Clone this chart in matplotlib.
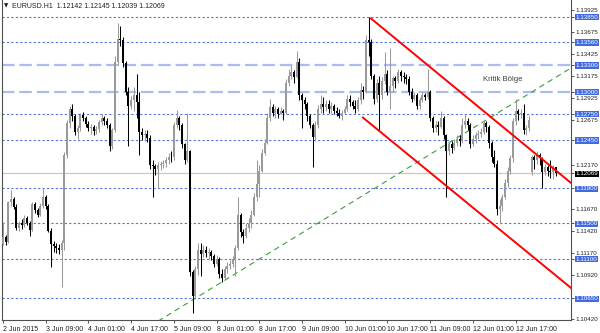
import matplotlib
matplotlib.use('Agg')
import matplotlib.pyplot as plt
from matplotlib.patches import Rectangle

# ---------------- data ----------------
opens = [
 1.1127, 1.1135, 1.1129, 1.1174, 1.1178, 1.1169, 1.1145, 1.1150, 1.1148, 1.1156,
 1.1151, 1.1143, 1.1172, 1.1165, 1.1160, 1.1170, 1.1180, 1.1170, 1.1142, 1.1127,
 1.1124, 1.1122, 1.1120, 1.1128, 1.1228, 1.1264, 1.1280, 1.1272, 1.1254, 1.1258,
 1.1273, 1.1270, 1.1263, 1.1258, 1.1260, 1.1255, 1.1257, 1.1265, 1.1270, 1.1267,
 1.1262, 1.1238, 1.1256, 1.1334, 1.1360, 1.1358, 1.1332, 1.1300, 1.1284, 1.1290,
 1.1296, 1.1288, 1.1254, 1.1250, 1.1252, 1.1247, 1.1217, 1.1215, 1.1212, 1.1216,
 1.1218, 1.1219, 1.1222, 1.1226, 1.1225, 1.1262, 1.1270, 1.1262, 1.1240, 1.1222,
 1.1232, 1.1095, 1.1068, 1.1098, 1.1120, 1.1115, 1.1120, 1.1116, 1.1118, 1.1113,
 1.1104, 1.1110, 1.1093, 1.1088, 1.1098, 1.1102, 1.1104, 1.1110, 1.1122, 1.1160,
 1.1140, 1.1136, 1.1145, 1.1150, 1.1160, 1.1180, 1.1195, 1.1210, 1.1230, 1.1242,
 1.1270, 1.1282, 1.1276, 1.1280, 1.1275, 1.1278, 1.1276, 1.1310, 1.1318, 1.1322,
 1.1316, 1.1334, 1.1296, 1.1290, 1.1286, 1.1272, 1.1262, 1.1248, 1.1262, 1.1280,
 1.1286, 1.1282, 1.1286, 1.1280, 1.1284, 1.1278, 1.1276, 1.1272, 1.1276, 1.1280,
 1.1292, 1.1288, 1.1284, 1.1280, 1.1290, 1.1302, 1.1300, 1.1358, 1.1356, 1.1318,
 1.1292, 1.1310, 1.1296, 1.1312, 1.1320, 1.1300, 1.1306, 1.1315, 1.1312, 1.1322,
 1.1318, 1.1316, 1.1314, 1.1300, 1.1292, 1.1296, 1.1284, 1.1290, 1.1296, 1.1294,
 1.1300, 1.1270, 1.1258, 1.1262, 1.1260, 1.1270, 1.1250, 1.1232, 1.1240, 1.1236,
 1.1242, 1.1246, 1.1244, 1.1262, 1.1266, 1.1262, 1.1240, 1.1246, 1.1250, 1.1252,
 1.1254, 1.1264, 1.1260, 1.1242, 1.1226, 1.1218, 1.1166, 1.1170, 1.1180, 1.1196,
 1.1210, 1.1224, 1.1266, 1.1278, 1.1274, 1.1276, 1.1256, 1.1258, 1.1208, 1.1225,
 1.1222, 1.1228, 1.1224, 1.1209, 1.1214, 1.1210, 1.1208, 1.12142]

closes = [
 1.1135, 1.1129, 1.1174, 1.1178, 1.1169, 1.1145, 1.1150, 1.1148, 1.1156, 1.1151,
 1.1143, 1.1172, 1.1165, 1.1160, 1.1170, 1.1180, 1.1170, 1.1142, 1.1127, 1.1124,
 1.1122, 1.1120, 1.1128, 1.1228, 1.1264, 1.1280, 1.1272, 1.1254, 1.1258, 1.1273,
 1.1270, 1.1263, 1.1258, 1.1260, 1.1255, 1.1257, 1.1265, 1.1270, 1.1267, 1.1262,
 1.1238, 1.1256, 1.1334, 1.1360, 1.1358, 1.1332, 1.1300, 1.1284, 1.1290, 1.1296,
 1.1288, 1.1254, 1.1250, 1.1252, 1.1247, 1.1217, 1.1215, 1.1212, 1.1216, 1.1218,
 1.1219, 1.1222, 1.1226, 1.1225, 1.1262, 1.1270, 1.1262, 1.1240, 1.1222, 1.1232,
 1.1095, 1.1068, 1.1098, 1.1120, 1.1115, 1.1120, 1.1116, 1.1118, 1.1113, 1.1104,
 1.1110, 1.1093, 1.1088, 1.1098, 1.1102, 1.1104, 1.1110, 1.1122, 1.1160, 1.1140,
 1.1136, 1.1145, 1.1150, 1.1160, 1.1180, 1.1195, 1.1210, 1.1230, 1.1242, 1.1270,
 1.1282, 1.1276, 1.1280, 1.1275, 1.1278, 1.1276, 1.1310, 1.1318, 1.1322, 1.1316,
 1.1334, 1.1296, 1.1290, 1.1286, 1.1272, 1.1262, 1.1248, 1.1262, 1.1280, 1.1286,
 1.1282, 1.1286, 1.1280, 1.1284, 1.1278, 1.1276, 1.1272, 1.1276, 1.1280, 1.1292,
 1.1288, 1.1284, 1.1280, 1.1290, 1.1302, 1.1300, 1.1358, 1.1356, 1.1318, 1.1292,
 1.1310, 1.1296, 1.1312, 1.1320, 1.1300, 1.1306, 1.1315, 1.1312, 1.1322, 1.1318,
 1.1316, 1.1314, 1.1300, 1.1292, 1.1296, 1.1284, 1.1290, 1.1296, 1.1294, 1.1300,
 1.1270, 1.1258, 1.1262, 1.1260, 1.1270, 1.1250, 1.1232, 1.1240, 1.1236, 1.1242,
 1.1246, 1.1244, 1.1262, 1.1266, 1.1262, 1.1240, 1.1246, 1.1250, 1.1252, 1.1254,
 1.1264, 1.1260, 1.1242, 1.1226, 1.1218, 1.1166, 1.1170, 1.1180, 1.1196, 1.1210,
 1.1224, 1.1266, 1.1278, 1.1274, 1.1276, 1.1256, 1.1258, 1.1268, 1.1225, 1.1222,
 1.1228, 1.1224, 1.1209, 1.1214, 1.1210, 1.1208, 1.1214, 1.12069]

highs = [
 1.1152, 1.1137, 1.1176, 1.1188, 1.1180, 1.1172, 1.1153, 1.1155, 1.1160, 1.1158,
 1.1153, 1.1174, 1.1174, 1.1168, 1.1173, 1.1190, 1.1182, 1.1172, 1.1145, 1.1130,
 1.1128, 1.1127, 1.1131, 1.1231, 1.1268, 1.1283, 1.1286, 1.1275, 1.1262, 1.1276,
 1.1277, 1.1272, 1.1266, 1.1263, 1.1262, 1.1261, 1.1268, 1.1274, 1.1272, 1.1270,
 1.1264, 1.1258, 1.1340, 1.1378, 1.1375, 1.1362, 1.1335, 1.1305, 1.1295, 1.1305,
 1.1320, 1.1300, 1.1258, 1.1256, 1.1256, 1.1250, 1.1222, 1.1218, 1.1220, 1.1221,
 1.1222, 1.1225, 1.1230, 1.1232, 1.1265, 1.1279, 1.1272, 1.1264, 1.1242, 1.1276,
 1.1234, 1.1097, 1.1102, 1.1128, 1.1128, 1.1126, 1.1124, 1.1122, 1.1120, 1.1115,
 1.1114, 1.1112, 1.1098, 1.1102, 1.1106, 1.1108, 1.1113, 1.1125, 1.1180, 1.1162,
 1.1144, 1.1150, 1.1156, 1.1165, 1.1185, 1.1222, 1.1216, 1.1235, 1.1246, 1.1276,
 1.1292, 1.1286, 1.1284, 1.1282, 1.1282, 1.1280, 1.1314, 1.1326, 1.1330, 1.1324,
 1.1346, 1.1338, 1.1298, 1.1294, 1.1288, 1.1275, 1.1264, 1.1266, 1.1285, 1.1296,
 1.1294, 1.1290, 1.1290, 1.1288, 1.1286, 1.1282, 1.1280, 1.1279, 1.1284, 1.1296,
 1.1296, 1.1290, 1.1290, 1.1294, 1.1310, 1.1306, 1.1364, 1.1385, 1.1360, 1.1320,
 1.1314, 1.1318, 1.1316, 1.1345, 1.1324, 1.1350, 1.1318, 1.1318, 1.1326, 1.1324,
 1.1322, 1.1320, 1.1318, 1.1304, 1.1300, 1.1298, 1.1294, 1.1300, 1.1298, 1.1326,
 1.1302, 1.1272, 1.1266, 1.1266, 1.1278, 1.1272, 1.1252, 1.1244, 1.1244, 1.1246,
 1.1250, 1.1250, 1.1270, 1.1274, 1.1270, 1.1264, 1.1250, 1.1254, 1.1256, 1.1258,
 1.1268, 1.1266, 1.1262, 1.1244, 1.1234, 1.1222, 1.1178, 1.1184, 1.1200, 1.1214,
 1.1228, 1.1270, 1.1292, 1.1280, 1.1280, 1.1286, 1.1262, 1.1272, 1.1228, 1.1228,
 1.1232, 1.1230, 1.1226, 1.1218, 1.1216, 1.1222, 1.1216, 1.12145]

lows = [
 1.1125, 1.1125, 1.1128, 1.1170, 1.1166, 1.1143, 1.1141, 1.1144, 1.1146, 1.1148,
 1.1136, 1.1141, 1.1162, 1.1157, 1.1158, 1.1168, 1.1166, 1.1140, 1.1101, 1.1118,
 1.1116, 1.1115, 1.1078, 1.1120, 1.1224, 1.1258, 1.1266, 1.1250, 1.1246, 1.1255,
 1.1266, 1.1260, 1.1255, 1.1252, 1.1250, 1.1252, 1.1254, 1.1262, 1.1262, 1.1258,
 1.1232, 1.1235, 1.1254, 1.1330, 1.1352, 1.1328, 1.1296, 1.1238, 1.1280, 1.1278,
 1.1270, 1.1228, 1.1245, 1.1244, 1.1243, 1.1212, 1.1180, 1.1205, 1.1190, 1.1211,
 1.1213, 1.1214, 1.1218, 1.1220, 1.1222, 1.1258, 1.1256, 1.1236, 1.1218, 1.1220,
 1.1090, 1.1048, 1.1066, 1.1092, 1.1090, 1.1112, 1.1112, 1.1110, 1.1108, 1.1100,
 1.1102, 1.1088, 1.1084, 1.1086, 1.1094, 1.1098, 1.1100, 1.1090, 1.1120, 1.1135,
 1.1128, 1.1133, 1.1140, 1.1145, 1.1158, 1.1175, 1.1180, 1.1208, 1.1228, 1.1240,
 1.1266, 1.1272, 1.1270, 1.1270, 1.1274, 1.1268, 1.1274, 1.1306, 1.1314, 1.1310,
 1.1315, 1.1290, 1.1258, 1.1280, 1.1266, 1.1258, 1.1214, 1.1244, 1.1258, 1.1276,
 1.1276, 1.1278, 1.1276, 1.1276, 1.1274, 1.1272, 1.1270, 1.1268, 1.1274, 1.1278,
 1.1284, 1.1280, 1.1276, 1.1278, 1.1286, 1.1292, 1.1298, 1.1340, 1.1314, 1.1286,
 1.1288, 1.1256, 1.1292, 1.1308, 1.1296, 1.1280, 1.1300, 1.1304, 1.1310, 1.1312,
 1.1310, 1.1308, 1.1296, 1.1288, 1.1290, 1.1280, 1.1280, 1.1288, 1.1290, 1.1292,
 1.1266, 1.1254, 1.1254, 1.1250, 1.1258, 1.1246, 1.1180, 1.1228, 1.1230, 1.1234,
 1.1238, 1.1238, 1.1242, 1.1258, 1.1256, 1.1236, 1.1238, 1.1242, 1.1246, 1.1248,
 1.1252, 1.1254, 1.1236, 1.1220, 1.1214, 1.1160, 1.1150, 1.1164, 1.1178, 1.1192,
 1.1206, 1.1220, 1.1262, 1.1268, 1.1270, 1.1252, 1.1250, 1.1255, 1.1205, 1.1212,
 1.1218, 1.1216, 1.1190, 1.1205, 1.1204, 1.1202, 1.1200, 1.12039]

x_tick_labels = ['2 Jun 2015', '3 Jun 09:00', '4 Jun 01:00', '4 Jun 17:00',
                 '5 Jun 09:00', '8 Jun 01:00', '8 Jun 17:00', '9 Jun 09:00',
                 '10 Jun 01:00', '10 Jun 17:00', '11 Jun 09:00', '12 Jun 01:00',
                 '12 Jun 17:00']
bars_per_label = 16

level_dotted = [1.13850, 1.13560, 1.12750, 1.12450, 1.11900, 1.11500, 1.11100, 1.10650]
level_dashed = [1.13300, 1.13000]
current_price = 1.12069
plain_ticks = [1.13925, 1.13675, 1.13425, 1.13175, 1.12925, 1.12675, 1.12170,
               1.11670, 1.11420, 1.11170, 1.10920, 1.10420]

channel_upper = [(137.5, 1.13838), (214.0, 1.11929)]
channel_lower = [(134.5, 1.12711), (214.0, 1.10736)]
trend_green = [(55.0, 1.10333), (214.0, 1.13291)]

title_text = 'EURUSD.H1  1.12142 1.12145 1.12039 1.12069'
zone_label = 'Kritik Bölge'
zone_label_pos = (179.8, 1.13142)

# ---------------- drawing ----------------
plt.rcParams['font.family'] = ['Liberation Sans', 'DejaVu Sans']
plt.rcParams['lines.scale_dashes'] = False

fig = plt.figure(figsize=(6.0, 3.33), dpi=100)
fig.patch.set_facecolor('white')
ax = fig.add_axes([2/600, 13/333, 569/600, 320/333])
ax.set_xlim(-0.375, 212.73)
ax.set_ylim(1.10403, 1.14040)

# horizontal levels
for p in level_dotted:
    ax.axhline(p, color='#5274e0', lw=0.8, linestyle=(0, (1.6, 1.6)), zorder=1)
for p in level_dashed:
    ax.axhline(p, color='#a9bdf3', lw=1.6, linestyle=(0, (9, 3.5)), zorder=1)
ax.axhline(current_price, color='#c8c8c8', lw=0.9, zorder=1)

# trend line
ax.plot([trend_green[0][0], trend_green[1][0]], [trend_green[0][1], trend_green[1][1]],
        color='#3c9e3c', lw=0.8, linestyle=(0, (4, 3)), zorder=2)

# candles
bw = 0.75
for i in range(len(closes)):
    o, h, l, c = opens[i], highs[i], lows[i], closes[i]
    bull = c >= o
    col = '#9a9a9a' if bull else '#000000'
    ax.plot([i, i], [l, h], color=col, lw=0.75, zorder=3, solid_capstyle='butt')
    lo_b, hi_b = min(o, c), max(o, c)
    ax.add_patch(Rectangle((i - bw/2, lo_b), bw, max(hi_b - lo_b, 0.00002),
                           facecolor=col, edgecolor='none', zorder=4))

for seg in (channel_upper, channel_lower):
    ax.plot([seg[0][0], seg[1][0]], [seg[0][1], seg[1][1]], color='#ff0000',
            lw=1.4, zorder=5, solid_capstyle='butt')

ax.text(zone_label_pos[0], zone_label_pos[1], zone_label, fontsize=5.6,
        color='#404040', ha='left', va='center', zorder=6)

# spines
for s in ['left', 'bottom', 'right']:
    ax.spines[s].set_color('#505050')
    ax.spines[s].set_linewidth(0.8)
ax.spines['top'].set_visible(False)

# x ticks
xt = [k * bars_per_label for k in range(len(x_tick_labels))]
ax.set_xticks(xt)
ax.set_xticklabels(x_tick_labels)
ax.tick_params(axis='x', direction='out', length=2.5, width=0.7, colors='#505050',
               labelsize=5.0, pad=1.5, labelcolor='#202020')
for lab in ax.get_xticklabels():
    lab.set_horizontalalignment('left')

# y ticks (right)
ax.yaxis.tick_right()
all_ticks = sorted(plain_ticks + level_dotted + level_dashed + [current_price])
ax.set_yticks(all_ticks)
ax.set_yticklabels(['%.5f' % v for v in all_ticks])
ax.tick_params(axis='y', direction='out', length=2.0, width=0.7, colors='#505050',
               labelsize=4.5, pad=1.2, labelcolor='#202020')
hl = set(round(v, 5) for v in level_dotted + level_dashed)
for v, lab in zip(all_ticks, ax.get_yticklabels()):
    if round(v, 5) in hl:
        lab.set_color('white')
        lab.set_bbox(dict(boxstyle='square,pad=0.12', fc='#4169e1', ec='none'))
    elif abs(v - current_price) < 1e-7:
        lab.set_color('white')
        lab.set_bbox(dict(boxstyle='square,pad=0.12', fc='#000000', ec='none'))

# title
fig.text(4/600, 1 - 6/333, '\u25BC', fontsize=4, color='#202020', va='center',
         ha='left', family=['DejaVu Sans'])
fig.text(12/600, 1 - 6/333, title_text, fontsize=5.0, color='#202020',
         va='center', ha='left')

fig.savefig('out.png', dpi=100)
